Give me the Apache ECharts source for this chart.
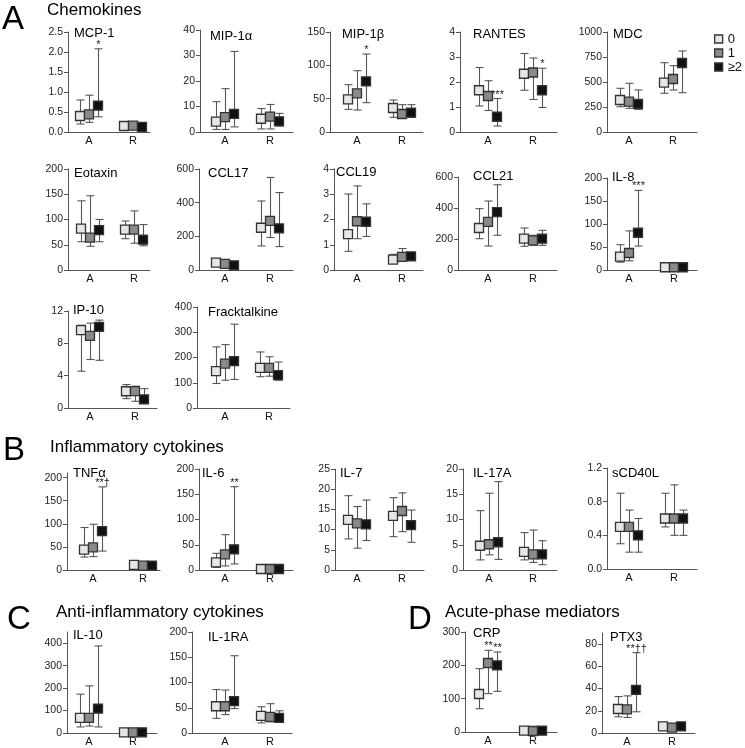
<!DOCTYPE html>
<html><head><meta charset="utf-8">
<script src="https://cdn.jsdelivr.net/npm/echarts@6/dist/echarts.min.js"></script>
<style>html,body{margin:0;padding:0;background:#fff}#c{width:745px;height:748px}</style>
</head><body><div id="c"></div>
<script>
// ---------- DATA ----------
const categories = ['A', 'R'];
const groups = ['0', '1', '≥2'];
// rows: A-0, A-1, A-≥2, R-0, R-1, R-≥2 ; each [median, low, high]
const mcp1   = [[0.40,0.20,0.80],[0.44,0.24,0.92],[0.66,0.38,2.08],[0.15,0.12,0.18],[0.16,0.13,0.19],[0.13,0.10,0.16]];
const mip1a  = [[4.1,1.0,11.9],[5.8,1.0,17.0],[7.1,2.0,31.6],[5.2,1.2,9.2],[6.0,1.2,10.8],[4.2,2.4,7.3]];
const mip1b  = [[48.8,34,71],[58,33,92],[76,44,117],[36,22,48],[27,22,41],[29,22,41]];
const rantes = [[1.67,1.04,2.58],[1.44,0.86,2.05],[0.61,0.24,1.34],[2.33,1.67,3.14],[2.38,1.30,2.96],[1.67,0.98,2.55]];
const mdc    = [[320,253,437],[303,237,487],[280,227,420],[493,387,693],[530,420,663],[690,393,810]];
const eotaxin= [[82,56,137],[64,47,147],[79,56,100],[80,62,97],[80,53,117],[60,48,90]];
const ccl17  = [[44,35,52],[36,28,44],[28,22,34],[251,143,410],[292,193,550],[247,139,460]];
const ccl19  = [[1.42,0.74,3.01],[1.93,1.24,3.33],[1.91,1.33,2.62],[0.41,0.27,0.62],[0.52,0.35,0.85],[0.54,0.41,0.69]];
const ccl21  = [[271,202,396],[310,155,445],[374,224,550],[202,153,271],[191,159,224],[202,159,256]];
const il8    = [[29,17,55],[37,20,85],[81,52,173],[6,4,8],[6,4,8],[6,4,8]];
const ip10   = [[9.63,4.55,10.25],[8.93,6.0,10.5],[10.04,5.9,10.87],[2.07,1.16,2.9],[2.1,0.83,2.7],[1.07,0.6,2.4]];
const fractalk=[[146,97,242],[176,110,251],[186,113,332],[159,124,222],[159,126,203],[130,110,182]];
const tnfa   = [[44,28,92],[49,29,99],[84,41,180],[11,8,14],[9.5,7,12],[9.5,7,12]];
const il6    = [[15,5,33],[31,8,70],[41,12,165],[2,1,3],[2,1,3],[2,1,3]];
const il7    = [[12.4,7.7,18.4],[11.55,5.4,15.7],[11.3,7.3,17.3],[13.4,8.25,17.9],[14.6,9.5,19.1],[11.1,6.85,14.85]];
const il17a  = [[4.8,2.0,11.75],[5.1,3.0,15.2],[5.5,2.1,17.5],[3.6,2.0,7.4],[3.1,1.5,7.9],[3.1,1.05,5.8]];
const scd40l = [[0.5,0.3,0.9],[0.5,0.2,0.7],[0.4,0.2,0.6],[0.6,0.5,0.9],[0.6,0.4,1.0],[0.6,0.4,0.7]];
const il10   = [[67,27,173],[67,31,210],[109,27,388],[3,1,5],[3,1,5],[3,1,5]];
const il1ra  = [[53,29,86],[53,36.5,85],[63,48.5,153],[34,20,52],[32,22,58],[30,22,44]];
const crp    = [[114,70,190],[207,115,245],[200,122,240],[4,2,6],[3,1,5],[4,2,6]];
const ptx3   = [[21.6,14.6,32.8],[21.3,14,33.4],[38.9,19.1,72.3],[6,4,8.5],[4.9,3.5,6.5],[6,4.5,7.5]];

const panelNames = ['MCP-1','MIP-1α','MIP-1β','RANTES','MDC','Eotaxin','CCL17','CCL19','CCL21','IL-8',
  'IP-10','Fracktalkine','TNFα','IL-6','IL-7','IL-17A','sCD40L','IL-10','IL-1RA','CRP','PTX3'];
const panelData = [mcp1,mip1a,mip1b,rantes,mdc,eotaxin,ccl17,ccl19,ccl21,il8,ip10,fractalk,tnfa,il6,il7,il17a,scd40l,il10,il1ra,crp,ptx3];
const yMax     = [2.5,40,150,4,1000,200,600,4,600,200,12,400,210,200,25,20,1.2,450,200,300,90];
const yTickTop = [2.5,40,150,4,1000,200,600,4,600,200,12,400,200,200,25,20,1.2,400,200,300,80];
const yStep    = [0.5,10,50,1,250,50,200,1,200,50,4,100,50,50,5,5,0.4,100,50,100,20];
// significance marks: [panel, row, text]
const sigMarks = [[0,2,'*'],[2,2,'*'],[3,2,'***'],[3,5,'*'],[9,2,'***'],[12,2,'**†'],[13,2,'**'],[19,1,'**'],[19,2,'**'],[20,2,'**††']];
const sections = [['A','Chemokines'],['B','Inflammatory cytokines'],['C','Anti-inflammatory cytokines'],['D','Acute-phase mediators']];

// ---------- LAYOUT (pixels) ----------
// [axisLeft, axisEnd, labelA, labelR, top, bottom, titleX, titleCenterY]
const layout = [
 [68,150,89,133,32,132,74,33],[200,293,225,270,30,132,210,36],[330,423,357,402,32,132,342,34],[460,557,488,533,32,132,473,34],[607,697,629,673,32,132,613,34],
 [68,150,90,134,169,270,74,173],[199,293,225,270,169,270,208,173],[334,423,357,402,169,270,336,172],[458,557,488,533,177,270,473,176],[607,697,629,674,178,270,612,177],
 [68,157,90,135,311,408,73,310],[197,290,225,269,307,408,208,312],
 [67,160,93,143,473,570,73,473],[199,293,225,270,469,570,202,473],[335,424,357,402,469,570,340,473],[463,557,489,533,469,570,473,473],[607,697,629,674,468,569,612,473],
 [67,157,89,133,632,733,73,635],[192,292,225,270,632,733,208,637],[465,557,488,533,632,732,473,633],[602,695,627,672,633,733,610,637]
];
// [letterX, letterCenterY, headX, headCenterY]
const sectionPos = [[2,20,47,10],[3,451,50,447],[7,620,56,612],[408,620,445,612]];

const FONT = '"Liberation Sans", Arial, Helvetica, sans-serif';
const fills = ['#e6e6e6','#8a8a8a','#111111'];
const dodge = [-9, 0, 9];

const grid = [], xAxis = [], yAxis = [], series = [], title = [];

sections.forEach((s, i) => {
  const [lx, ly, hx, hy] = sectionPos[i];
  title.push({text: s[0], left: lx, top: ly - 16.5, padding: 0,
    textStyle: {fontSize: 33, fontWeight: 'normal', color: '#000', fontFamily: FONT}});
  title.push({text: s[1], left: hx, top: hy - 8.5, padding: 0,
    textStyle: {fontSize: 17, fontWeight: 'normal', color: '#000', fontFamily: FONT}});
});

panelNames.forEach((name, p) => {
  const [L, E, pA, pR, top, bottom, tx, ty] = layout[p];
  const unit = pR - pA;
  grid.push({left: L, top: top, width: E - L, height: bottom - top});
  xAxis.push({
    type: 'value', gridIndex: p, min: -(pA - L) / unit, max: (E - pA) / unit,
    axisLine: {onZero: false, lineStyle: {color: '#555', width: 1}},
    axisTick: {show: false}, splitLine: {show: false},
    axisLabel: {customValues: [0, 1], formatter: v => categories[Math.round(v)],
      fontSize: 11, color: '#111', margin: 3, fontFamily: FONT}
  });
  const ticks = [];
  for (let k = 0; k * yStep[p] <= yTickTop[p] + 1e-9; k++) ticks.push(+(k * yStep[p]).toFixed(4));
  yAxis.push({
    type: 'value', gridIndex: p, min: 0, max: yMax[p],
    axisLine: {show: true, onZero: false, lineStyle: {color: '#555', width: 1}},
    axisTick: {show: true, length: 4, customValues: ticks, lineStyle: {color: '#555'}},
    splitLine: {show: false},
    axisLabel: {customValues: ticks, formatter: v => yStep[p] < 1 ? v.toFixed(1) : String(Math.round(v)),
      fontSize: 10.5, color: '#222', margin: 5, fontFamily: FONT}
  });
  title.push({text: name, left: tx, top: ty - 6.5, padding: 0,
    textStyle: {fontSize: 13, fontWeight: 'normal', color: '#000', fontFamily: FONT}});

  const rows = panelData[p];
  for (let g = 0; g < 3; g++) {
    const d = [0, 1].map(c => [c, rows[c * 3 + g][0], rows[c * 3 + g][1], rows[c * 3 + g][2]]);
    const dx = dodge[g];
    series.push({
      type: 'custom', name: 'whisker', xAxisIndex: p, yAxisIndex: p, data: d, z: 2, silent: true,
      renderItem: (params, api) => {
        const c = api.value(0);
        const lo = api.coord([c, api.value(2)]);
        const hi = api.coord([c, api.value(3)]);
        const cx = Math.round(lo[0] + dx) + 0.5;
        const st = {stroke: '#555', lineWidth: 1.1};
        const children = [
          {type: 'line', shape: {x1: cx, y1: lo[1], x2: cx, y2: hi[1]}, style: st},
          {type: 'line', shape: {x1: cx - 4, y1: lo[1], x2: cx + 4, y2: lo[1]}, style: st},
          {type: 'line', shape: {x1: cx - 4, y1: hi[1], x2: cx + 4, y2: hi[1]}, style: st}
        ];
        sigMarks.forEach(m => {
          if (m[0] === p && m[1] === c * 3 + g) {
            children.push({type: 'text', style: {text: m[2], x: cx, y: hi[1] - 4, align: 'center',
              verticalAlign: 'middle', fontSize: 11, fill: '#222', fontFamily: FONT}});
          }
        });
        return {type: 'group', children};
      }
    });
    series.push({
      type: 'scatter', name: groups[g], xAxisIndex: p, yAxisIndex: p, z: 3, silent: true,
      data: d.map(r => [r[0], r[1]]), symbol: 'rect', symbolSize: 9, symbolOffset: [dx, 0],
      itemStyle: {color: fills[g], borderColor: '#333', borderWidth: 1.3, opacity: 1}
    });
  }
});

const chart = echarts.init(document.getElementById('c'), null, {renderer: 'canvas'});
chart.setOption({
  animation: false,
  backgroundColor: '#fff',
  textStyle: {fontFamily: FONT},
  title, grid, xAxis, yAxis, series,
  legend: {
    data: groups, orient: 'vertical', left: 714, top: 32, padding: 0, itemGap: 0,
    itemWidth: 8, itemHeight: 8, icon: 'rect', selectedMode: false,
    itemStyle: {borderColor: '#333', borderWidth: 1.3},
    textStyle: {fontSize: 13, color: '#111', lineHeight: 14, fontFamily: FONT}
  }
});
</script>
</body></html>
